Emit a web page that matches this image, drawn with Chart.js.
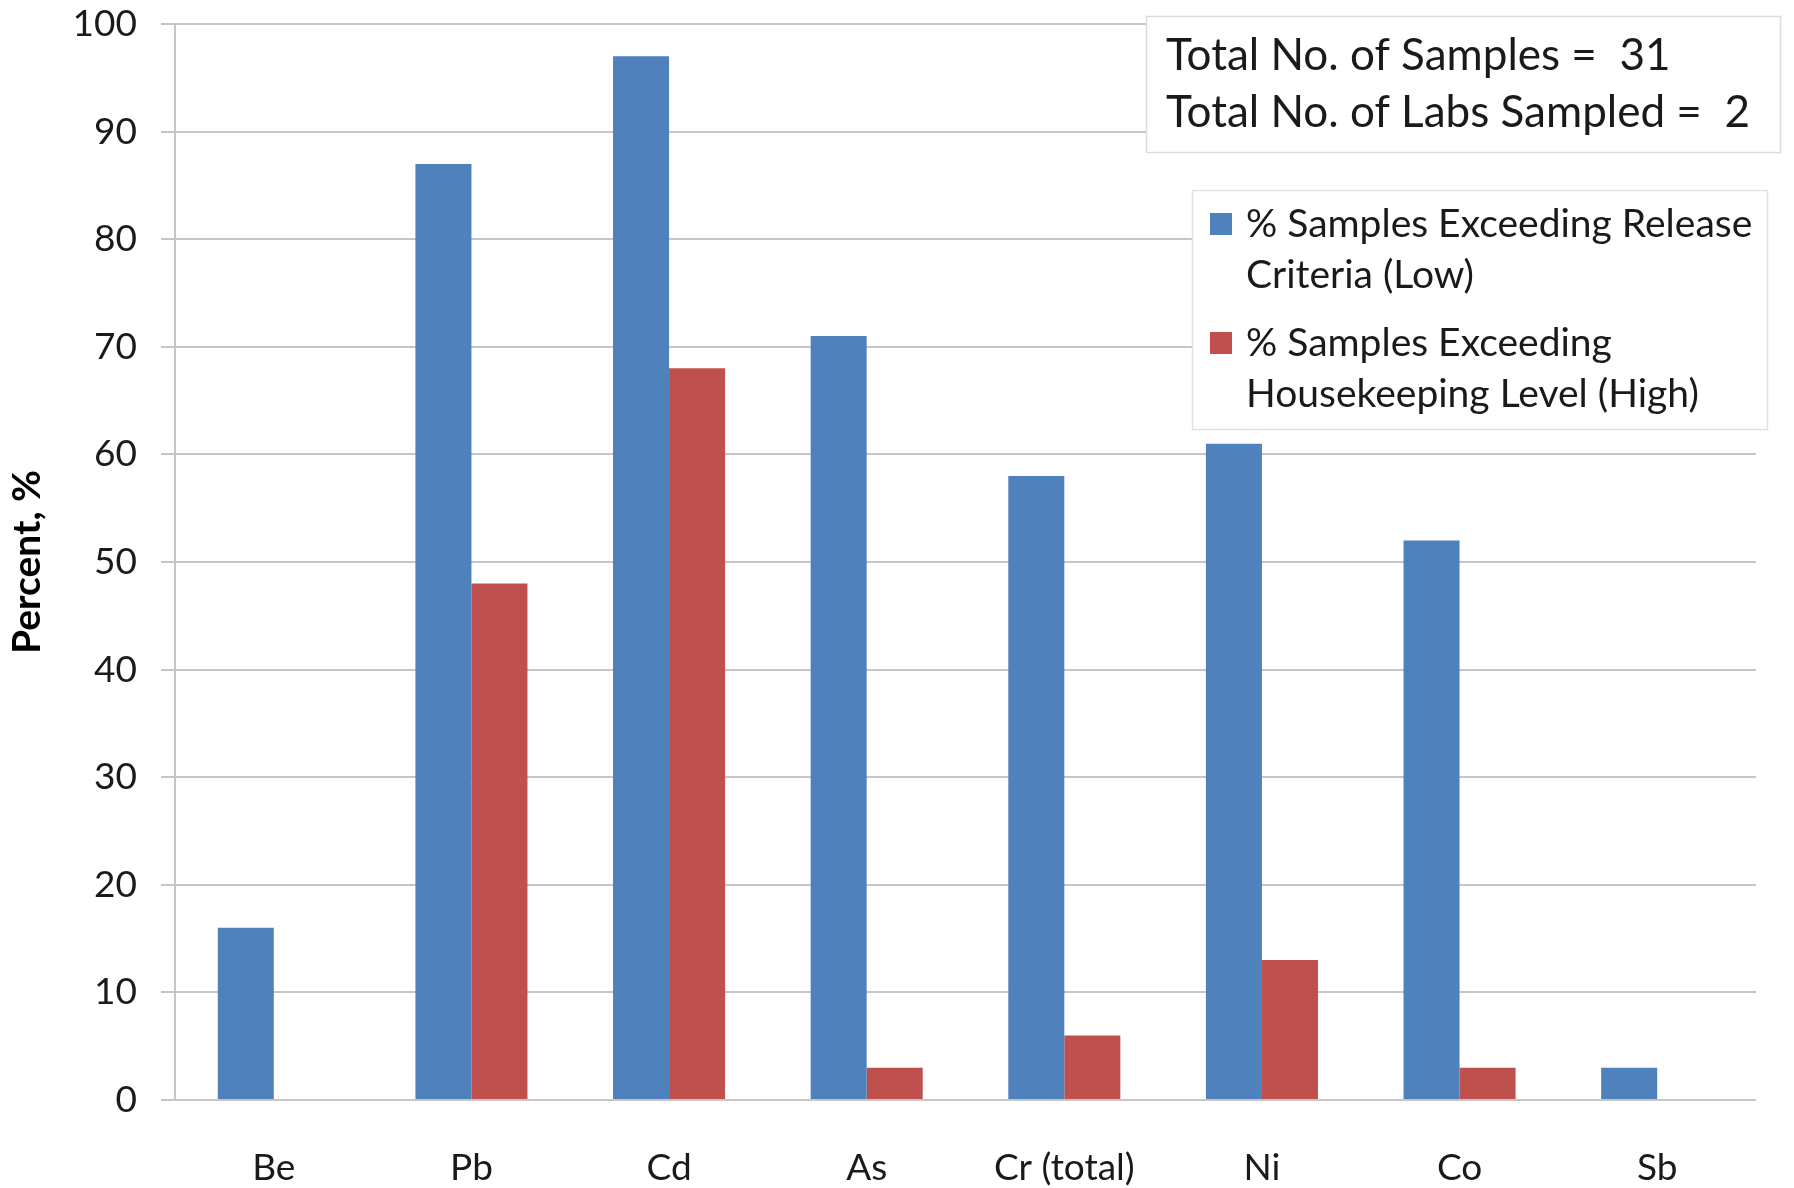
<!DOCTYPE html>
<html>
<head>
<meta charset="utf-8">
<script src="https://cdn.jsdelivr.net/npm/chart.js@4.4.1/dist/chart.umd.min.js"></script>
<style>
  html, body { margin: 0; padding: 0; background: #ffffff; }
  #wrap { width: 1794px; height: 1188px; }
</style>
</head>
<body>
<div id="wrap"><canvas id="chart" width="1794" height="1188"></canvas></div>
<script>
// Metals sampled
const elements = ['Be', 'Pb', 'Cd', 'As', 'Cr (total)', 'Ni', 'Co', 'Sb'];
// % of samples above the release criteria (low threshold)
const releaseLow = [16, 87, 97, 71, 58, 61, 52, 3];
// % of samples above the housekeeping level (high threshold)
const housekeepingHigh = [null, 48, 68, 3, 6, 13, 3, null];
// Legend text, one entry per series, split into display lines
const seriesNames = [
  ['% Samples Exceeding Release', 'Criteria (Low)'],
  ['% Samples Exceeding', 'Housekeeping Level (High)']
];
const infoLines = ['Total No. of Samples =  31', 'Total No. of Labs Sampled =  2'];
const yMin = 0, yMax = 100, yStep = 10;

const BLUE = '#4F81BD';
const RED = '#C0504D';
const GRID = '#c6c6c6';
const FONT = 'Lato, "Open Sans", sans-serif';

// Sample-count box and legend drawn in the upper right of the plot
const overlayPlugin = {
  id: 'overlay',
  afterDraw(chart) {
    const ctx = chart.ctx;
    ctx.save();
    // info box
    ctx.fillStyle = '#ffffff';
    ctx.fillRect(1146, 16, 634, 136);
    ctx.strokeStyle = '#dcdcdc';
    ctx.lineWidth = 1.5;
    ctx.strokeRect(1146.5, 16.5, 634, 136);
    ctx.fillStyle = '#1a1a1a';
    ctx.font = '44px ' + FONT;
    ctx.textBaseline = 'middle';
    ctx.textAlign = 'left';
    infoLines.forEach((t, i) => ctx.fillText(t, 1166, 56 + i * 57));

    // legend box
    ctx.fillStyle = '#ffffff';
    ctx.fillRect(1192, 190, 575, 239);
    ctx.strokeStyle = '#e2e2e2';
    ctx.strokeRect(1192.5, 190.5, 575, 239);
    ctx.font = '39px ' + FONT;
    const entryY = [224, 343];
    chart.data.datasets.forEach((ds, i) => {
      const y0 = entryY[i];
      ctx.fillStyle = ds.backgroundColor;
      ctx.fillRect(1210, y0 - 11, 22, 22);
      ctx.fillStyle = '#1a1a1a';
      seriesNames[i].forEach((line, j) => ctx.fillText(line, 1246, y0 + j * 51));
    });
    ctx.restore();
  }
};

new Chart(document.getElementById('chart'), {
  type: 'bar',
  data: {
    labels: elements,
    datasets: [
      { label: seriesNames[0].join(' '), data: releaseLow, backgroundColor: BLUE, borderWidth: 0,
        categoryPercentage: 0.567, barPercentage: 1.0 },
      { label: seriesNames[1].join(' '), data: housekeepingHigh, backgroundColor: RED, borderWidth: 0,
        categoryPercentage: 0.567, barPercentage: 1.0 }
    ]
  },
  options: {
    responsive: false,
    animation: false,
    devicePixelRatio: 1,
    layout: { padding: { top: 24, right: 38, left: 0, bottom: 0 } },
    plugins: {
      legend: { display: false },
      tooltip: { enabled: false },
      title: { display: false }
    },
    scales: {
      x: {
        grid: { display: false, drawTicks: false },
        border: { display: false },
        ticks: { color: '#1a1a1a', font: { family: FONT, size: 37 }, padding: 46, maxRotation: 0 },
        afterFit(scale) { scale.height = 88; }
      },
      y: {
        min: yMin, max: yMax,
        ticks: { stepSize: yStep, color: '#1a1a1a', font: { family: FONT, size: 37 }, padding: 24 },
        grid: { color: GRID, lineWidth: 2, tickLength: 14, tickColor: GRID },
        border: { display: true, color: GRID, width: 2 },
        title: { display: true, text: 'Percent, %', color: '#000000',
                 font: { family: FONT, size: 39, weight: 'bold' }, padding: { top: 4, bottom: 0 } },
        afterFit(scale) {
          scale.width = 175;
          scale.paddingTop = 0;
          scale.paddingBottom = 0;
        }
      }
    }
  },
  plugins: [overlayPlugin]
});
</script>
</body>
</html>
